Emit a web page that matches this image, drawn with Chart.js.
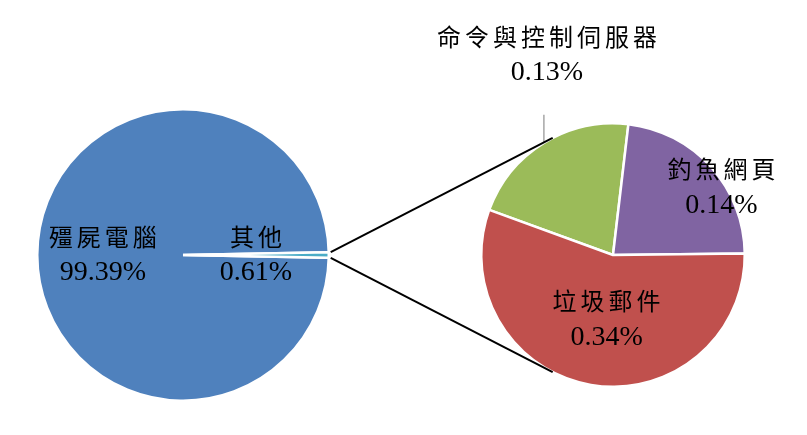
<!DOCTYPE html>
<html>
<head>
<meta charset="utf-8">
<script src="https://cdn.jsdelivr.net/npm/chart.js@4.4.1/dist/chart.umd.min.js"></script>
<style>
  html, body { margin: 0; padding: 0; background: #fff; }
  #wrap { position: relative; width: 807px; height: 435px; }
  #wrap canvas { position: absolute; left: 0; top: 0; }
</style>
</head>
<body>
<div id="wrap">
  <canvas id="pie-main" width="807" height="435"></canvas>
  <canvas id="pie-sub" width="807" height="435"></canvas>
</div>
<script>
// data
const mainLabels = ['殭屍電腦', '其他'];
const mainValues = [99.39, 0.61];
const subLabels = ['命令與控制伺服器', '釣魚網頁', '垃圾郵件'];
const subValues = [0.13, 0.14, 0.34];

const mainColors = ['#4F81BD', '#4BACC6'];
const subColors = ['#9BBB59', '#8064A2', '#C0504D'];

// where each label sits: fraction of radius + angle shift (deg) from slice middle
const mainLabelPlace = [{ r: 0.55, da: 0 }, { r: 0.5, da: 0 }];
const subLabelPlace = [{ leader: 28 }, { r: 0.97, da: 10 }, { r: 0.49, da: -4 }];

function drawLabel(ctx, name, value, x, y) {
  ctx.save();
  ctx.fillStyle = '#000';
  ctx.textAlign = 'center';
  ctx.textBaseline = 'middle';
  ctx.font = '24px "Noto Sans CJK TC"';
  const step = 28;
  const chars = Array.from(name);
  const start = x - ((chars.length - 1) * step) / 2;
  chars.forEach((c, i) => ctx.fillText(c, start + i * step, y - 18));
  ctx.font = '28px "Liberation Serif"';
  ctx.fillText(value.toFixed(2) + '%', x, y + 18);
  ctx.restore();
}

function labelPlugin(names, values, places) {
  return {
    id: 'sliceLabels',
    afterDraw(chart) {
      const ctx = chart.ctx;
      chart.getDatasetMeta(0).data.forEach((arc, i) => {
        const p = arc.getProps(['x', 'y', 'startAngle', 'endAngle', 'outerRadius'], true);
        const mid = (p.startAngle + p.endAngle) / 2;
        const place = places[i];
        if (place.leader) {
          const ex = p.x + Math.cos(mid) * p.outerRadius;
          const ey = p.y + Math.sin(mid) * p.outerRadius;
          ctx.save();
          ctx.strokeStyle = '#A6A6A6';
          ctx.lineWidth = 1.5;
          ctx.beginPath();
          ctx.moveTo(ex, ey);
          ctx.lineTo(ex, ey - place.leader);
          ctx.stroke();
          ctx.restore();
          drawLabel(ctx, names[i], values[i], ex + 3, ey - place.leader - 60);
        } else {
          const a = mid + (place.da * Math.PI) / 180;
          const x = p.x + Math.cos(a) * p.outerRadius * place.r;
          const y = p.y + Math.sin(a) * p.outerRadius * place.r;
          drawLabel(ctx, names[i], values[i], x, y);
        }
      });
    },
  };
}

let mainChart;

const connectorPlugin = {
  id: 'connectors',
  afterDraw(chart) {
    const ctx = chart.ctx;
    const other = mainChart.getDatasetMeta(0).data[1].getProps(['x', 'y', 'startAngle', 'endAngle', 'outerRadius'], true);
    const sub = chart.getDatasetMeta(0).data[0].getProps(['x', 'y', 'outerRadius'], true);
    const ends = [
      { a: other.startAngle, sign: 1 },
      { a: other.endAngle, sign: -1 },
    ];
    ctx.save();
    ctx.strokeStyle = '#000';
    ctx.lineWidth = 2;
    ends.forEach((e) => {
      const px = other.x + Math.cos(e.a) * (other.outerRadius + 2);
      const py = other.y + Math.sin(e.a) * (other.outerRadius + 2);
      const dx = px - sub.x;
      const dy = py - sub.y;
      const d = Math.sqrt(dx * dx + dy * dy);
      const theta = Math.atan2(dy, dx);
      const t = theta + e.sign * Math.acos(sub.outerRadius / d);
      ctx.beginPath();
      ctx.moveTo(px, py);
      ctx.lineTo(sub.x + Math.cos(t) * sub.outerRadius, sub.y + Math.sin(t) * sub.outerRadius);
      ctx.stroke();
    });
    ctx.restore();
  },
};

function baseOptions(padding, rotation) {
  return {
    responsive: false,
    animation: false,
    events: [],
    rotation: rotation,
    layout: { padding: padding },
    plugins: {
      legend: { display: false },
      tooltip: { enabled: false },
    },
  };
}

function criarGraficos() {
  const otherSweep = (mainValues[1] / mainValues.reduce((a, b) => a + b, 0)) * 360;

  mainChart = new Chart(document.getElementById('pie-main').getContext('2d'), {
    type: 'pie',
    data: {
      labels: mainLabels,
      datasets: [
        {
          data: mainValues,
          backgroundColor: mainColors,
          borderColor: '#FFFFFF',
          borderWidth: 2.5,
          offset: 0,
          hoverOffset: 0,
        },
      ],
    },
    options: baseOptions({ left: 36, top: 108, right: 477, bottom: 33 }, 90 + otherSweep / 2),
    plugins: [labelPlugin(mainLabels, mainValues, mainLabelPlace)],
  });

  new Chart(document.getElementById('pie-sub').getContext('2d'), {
    type: 'pie',
    data: {
      labels: subLabels,
      datasets: [
        {
          data: subValues,
          backgroundColor: subColors,
          borderColor: '#FFFFFF',
          borderWidth: 2.5,
          offset: 0,
          hoverOffset: 0,
        },
      ],
    },
    options: baseOptions({ left: 480, top: 122, right: 61, bottom: 47 }, -70),
    plugins: [labelPlugin(subLabels, subValues, subLabelPlace), connectorPlugin],
  });
}

Promise.all([
  document.fonts.load('24px "Noto Sans CJK TC"', '殭屍電腦'),
  document.fonts.load('28px "Liberation Serif"', '0.61%'),
]).then(criarGraficos, criarGraficos);
</script>
</body>
</html>
